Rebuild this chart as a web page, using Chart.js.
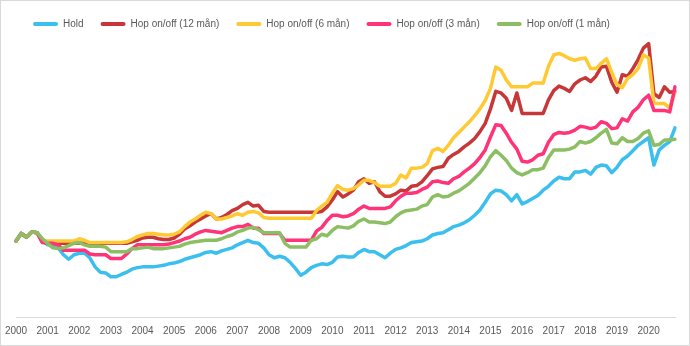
<!DOCTYPE html>
<html>
<head>
<meta charset="utf-8">
<script src="https://cdn.jsdelivr.net/npm/chart.js@4.4.1/dist/chart.umd.min.js"></script>
<style>
  body { margin: 0; background: #fff; }
  #ramme { width: 690px; height: 346px; box-sizing: border-box; border: 1px solid #d9d9d9; position: relative; background: #fff; }
</style>
</head>
<body>
<div id="ramme"><canvas id="hop_onoff"></canvas></div>
<script>
// annenhver maaned, jan 2000 - nov 2020
var maaneder = [];
for (let aar = 2000; aar <= 2020; aar++) {
  for (let m = 1; m <= 11; m += 2) {
    maaneder.push(aar + "-" + String(m).padStart(2, "0"));
  }
}

// indeks, start = 100
var hold = [
  100,110,105,112,111,101,95,95,91,82,
  76,82,84,84,78,66,59,58,53,53,
  56,59,63,65,66,66,66,67,68,70,
  71,73,76,78,80,82,85,86,84,87,
  89,91,95,98,101,98,97,91,82,78,
  80,78,72,64,55,59,65,68,70,69,
  72,79,80,79,79,85,89,86,86,82,
  78,84,89,91,94,98,99,100,103,108,
  110,111,115,119,121,124,128,134,141,151,
  162,167,166,161,153,161,149,152,156,160,
  167,172,179,184,182,182,191,191,193,188,
  197,200,199,190,197,207,212,219,226,231,
  236,200,220,226,231,249
];
var hop_12_mnd = [
  100,110,105,112,111,99,97,97,97,97,
  97,97,97,97,97,97,97,97,97,97,
  97,97,99,101,104,105,105,103,102,102,
  104,109,116,120,125,129,133,136,129,131,
  135,140,143,148,151,146,147,139,138,138,
  138,138,138,138,138,138,138,138,139,145,
  154,165,158,162,167,178,182,176,178,165,
  159,159,162,167,166,172,173,178,186,195,
  197,198,209,214,218,224,229,235,244,255,
  274,297,295,288,272,295,268,268,268,268,
  268,286,298,304,301,297,307,312,315,310,
  317,329,330,309,296,319,317,327,339,354,
  360,294,289,303,296,297
];
var hop_6_mnd = [
  100,110,105,112,111,100,100,100,100,100,
  100,100,103,101,98,98,98,98,98,98,
  98,99,102,106,108,110,110,109,108,108,
  109,112,119,125,129,134,138,136,129,129,
  131,133,136,134,138,139,137,131,130,130,
  130,130,130,130,130,130,130,140,146,151,
  163,173,168,167,169,174,180,180,177,172,
  172,172,176,187,183,196,196,197,202,219,
  222,218,226,236,243,250,257,265,274,285,
  301,329,325,312,303,303,303,303,308,308,
  308,330,345,347,344,340,338,340,341,327,
  327,334,340,322,306,302,314,319,327,345,
  341,281,281,281,275,296
];
var hop_3_mnd = [
  100,110,105,112,111,98,97,97,95,88,
  88,88,88,88,83,82,82,82,77,77,
  77,83,90,95,95,95,95,95,95,96,
  98,100,103,105,109,112,114,113,112,111,
  114,117,119,119,122,117,117,110,110,110,
  110,101,101,101,101,101,101,113,118,127,
  134,134,132,133,136,142,146,143,143,143,
  143,145,153,159,163,163,164,168,171,178,
  179,177,176,182,185,191,196,202,210,220,
  237,253,252,242,230,221,205,204,207,213,
  215,230,240,243,242,243,246,251,250,248,
  250,257,255,248,249,261,258,270,276,286,
  292,272,272,272,270,303
];
var hop_1_mnd = [
  100,110,105,112,111,103,97,91,90,91,
  94,97,98,95,93,93,93,92,86,86,
  86,86,90,90,91,92,90,90,90,91,
  92,93,96,98,99,100,101,101,101,103,
  106,108,112,114,117,118,115,111,111,111,
  111,97,92,92,92,92,101,103,109,107,
  114,119,118,117,120,126,129,125,125,124,
  123,125,132,137,140,141,142,146,148,158,
  161,158,159,163,166,171,176,183,190,199,
  211,219,213,206,196,190,187,190,194,194,
  196,210,220,220,220,221,224,231,229,231,
  236,242,247,229,228,236,231,231,235,242,
  245,226,227,233,233,234
];

var serier = [
  { navn: "Hold", data: hold, farge: "#3BBFEF" },
  { navn: "Hop on/off (12 mån)", data: hop_12_mnd, farge: "#C83737" },
  { navn: "Hop on/off (6 mån)", data: hop_6_mnd, farge: "#FFC933" },
  { navn: "Hop on/off (3 mån)", data: hop_3_mnd, farge: "#FF3378" },
  { navn: "Hop on/off (1 mån)", data: hop_1_mnd, farge: "#8CBE64" },
];

function lag_datasett() {
  return serier.map(function (s, i) {
    return {
      label: s.navn,
      data: s.data,
      borderColor: s.farge,
      backgroundColor: s.farge,
      borderWidth: 3.5,
      pointRadius: 0,
      tension: 0,
      borderJoinStyle: "round",
      borderCapStyle: "round",
      // siste serie tegnes oeverst
      order: serier.length - i,
    };
  });
}

const ctx = document.getElementById("hop_onoff").getContext("2d");
const myChart = new Chart(ctx, {
  type: "line",
  data: {
    labels: maaneder,
    datasets: lag_datasett(),
  },
  options: {
    responsive: true,
    maintainAspectRatio: false,
    animation: false,
    layout: {
      padding: { left: 15, right: 14, top: 1, bottom: 0 },
    },
    plugins: {
      tooltip: { enabled: false },
      legend: {
        position: "top",
        align: "start",
        labels: {
          boxWidth: 25,
          boxHeight: 4,
          padding: 17,
          color: "#595959",
          font: { family: "'Liberation Sans', Arial, sans-serif", size: 10 },
          useBorderRadius: true,
          borderRadius: 2,
          generateLabels: function (chart) {
            var items = Chart.defaults.plugins.legend.labels.generateLabels(chart);
            items.forEach(function (it) {
              it.fillStyle = it.strokeStyle;
              it.lineWidth = 0;
            });
            return items;
          },
          sort: function (a, b) {
            return a.datasetIndex - b.datasetIndex;
          },
        },
      },
    },
    scales: {
      x: {
        offset: false,
        grid: { display: false, drawTicks: false },
        border: { display: true, color: "#d9d9d9", width: 1 },
        afterFit: function (scale) {
          scale.paddingLeft = 0;
          scale.paddingRight = 0;
        },
        ticks: {
          autoSkip: false,
          maxRotation: 0,
          padding: 8,
          color: "#595959",
          font: { family: "'Liberation Sans', Arial, sans-serif", size: 10 },
          callback: function (value) {
            var lab = this.getLabelForValue(value);
            return lab.endsWith("-01") ? lab.slice(0, 4) : null;
          },
        },
      },
      y: {
        display: false,
        min: 0,
        max: 366,
      },
    },
  },
});
</script>
</body>
</html>
